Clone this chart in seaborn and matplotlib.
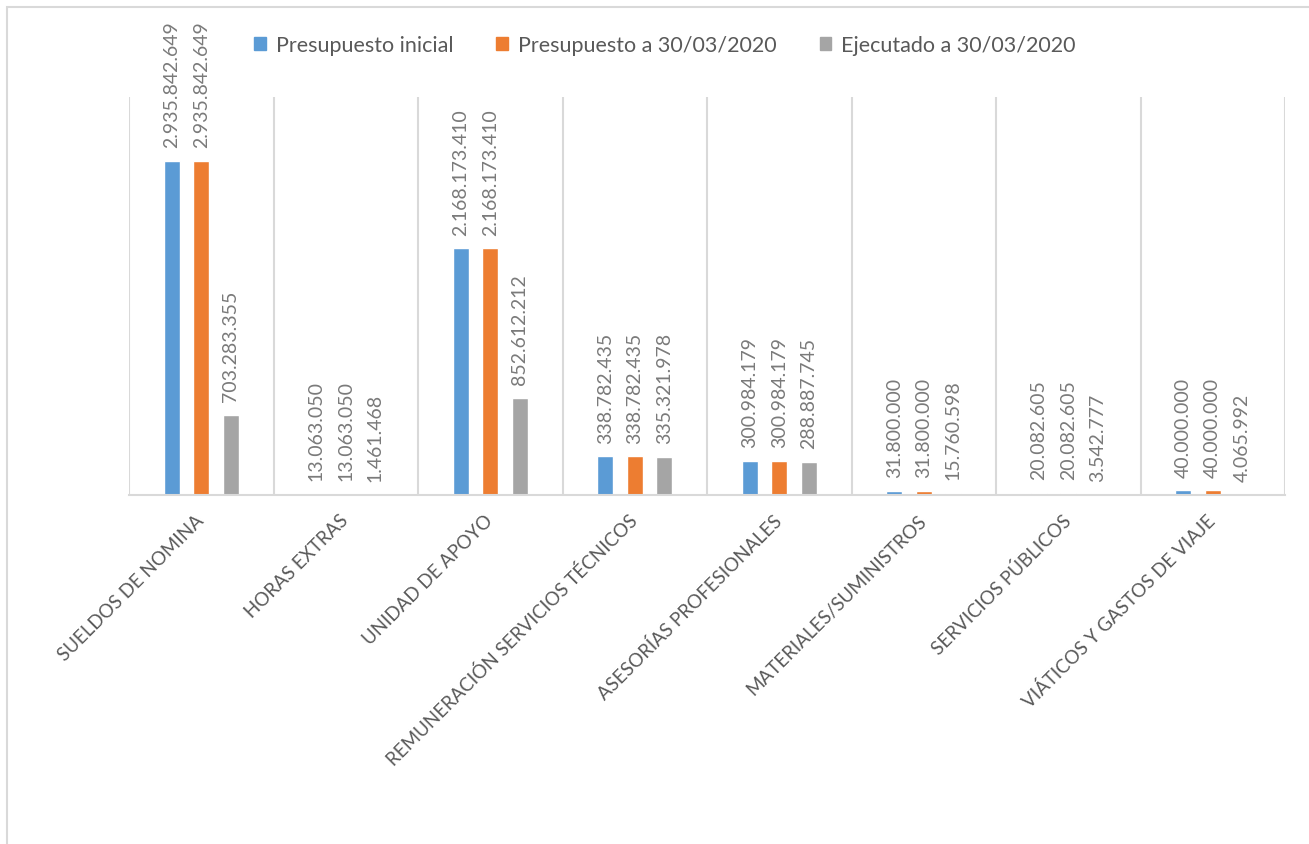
import pandas as pd
import matplotlib.pyplot as plt
import matplotlib.patches as mpatches
import seaborn as sns

# Rubros presupuestales
categorias = ['SUELDOS DE NOMINA', 'HORAS EXTRAS', 'UNIDAD DE APOYO',
              'REMUNERACIÓN SERVICIOS TÉCNICOS', 'ASESORÍAS PROFESIONALES',
              'MATERIALES/SUMINISTROS', 'SERVICIOS PÚBLICOS',
              'VIÁTICOS Y GASTOS DE VIAJE']
series = ['Presupuesto inicial', 'Presupuesto a 30/03/2020', 'Ejecutado a 30/03/2020']

presupuesto_inicial = [2935842649, 13063050, 2168173410, 338782435,
                       300984179, 31800000, 20082605, 40000000]
presupuesto_marzo = [2935842649, 13063050, 2168173410, 338782435,
                     300984179, 31800000, 20082605, 40000000]
ejecutado_marzo = [703283355, 1461468, 852612212, 335321978,
                   288887745, 15760598, 3542777, 4065992]

colores = ['#5B9BD5', '#ED7D31', '#A5A5A5']
gris_texto = '#595959'

# Armar tabla larga para seaborn
df = pd.DataFrame({
    'categoria': categorias * 3,
    'serie': [s for s in series for _ in categorias],
    'valor': presupuesto_inicial + presupuesto_marzo + ejecutado_marzo,
})

sns.set_style('white')
plt.rcParams['font.family'] = ['Lato', 'DejaVu Sans']

fig = plt.figure(figsize=(13.09, 8.45), dpi=100)
ax = fig.add_axes([129 / 1309, 1 - 496 / 845, (1285 - 129) / 1309, (496 - 98) / 845])

sns.barplot(data=df, x='categoria', y='valor', hue='serie', palette=colores,
            order=categorias, hue_order=series, width=0.61, gap=0.46,
            saturation=1, ax=ax)

# Etiquetas de datos verticales
for cont in ax.containers:
    etiquetas = [f"{int(round(b.get_height())):,}".replace(',', '.') for b in cont]
    ax.bar_label(cont, labels=etiquetas, rotation=90, padding=10,
                 fontsize=14, color='#7a7a7a')

ax.set_ylim(0, 3.5e9)
ax.set_xlim(-0.5, len(categorias) - 0.5)
ax.set_yticks([])
ax.set_xlabel('')
ax.set_ylabel('')

# Lineas verticales entre categorias
ax.set_xticks([i - 0.5 for i in range(len(categorias) + 1)], minor=True)
ax.grid(which='minor', axis='x', color='#d9d9d9', linewidth=1.5)
ax.tick_params(axis='x', which='both', length=0)
for lado in ['top', 'left', 'right']:
    ax.spines[lado].set_visible(False)
ax.spines['bottom'].set_color('#d9d9d9')
ax.spines['bottom'].set_linewidth(1.5)

ax.tick_params(axis='x', which='major', pad=16)
for lbl in ax.get_xticklabels():
    lbl.set_rotation(45)
    lbl.set_rotation_mode('anchor')
    lbl.set_ha('right')
    lbl.set_va('center')
    lbl.set_fontsize(13.5)
    lbl.set_color(gris_texto)

# Leyenda arriba
ax.get_legend().remove()
handles = [mpatches.Patch(color=c, label=s) for c, s in zip(colores, series)]
fig.legend(handles=handles, loc='center', bbox_to_anchor=(0.508, 1 - 46 / 845),
           ncol=3, frameon=False, fontsize=15.5, handlelength=0.55, handleheight=0.55,
           handletextpad=0.45, columnspacing=2.0, labelcolor=gris_texto)

# Borde del grafico (recortado como en la captura)
fig.patches.append(mpatches.Rectangle((7 / 1309, -0.1), 1.2, 1 - 8 / 845 + 0.1,
                                      transform=fig.transFigure, fill=False,
                                      edgecolor='#d9d9d9', linewidth=1.5))

fig.savefig('out.png', dpi=100)
